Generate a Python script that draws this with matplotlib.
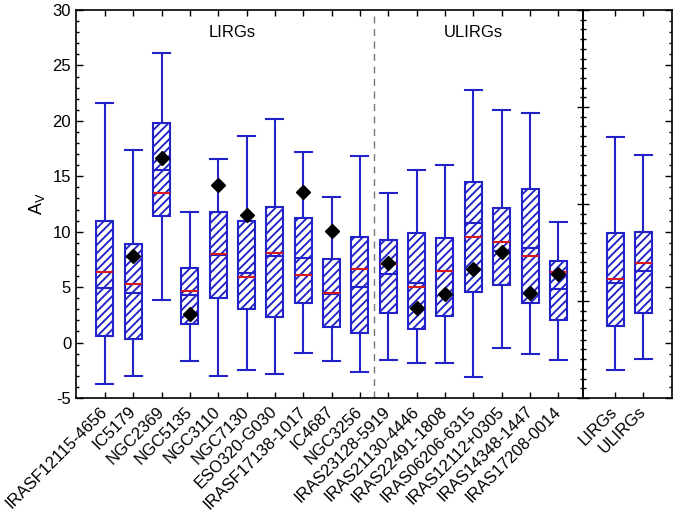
import numpy as np
import matplotlib
matplotlib.use('Agg')
import matplotlib.pyplot as plt
from matplotlib.ticker import MultipleLocator, FixedLocator, NullFormatter

plt.rcParams['font.family'] = ['Liberation Sans', 'DejaVu Sans']
plt.rcParams['axes.unicode_minus'] = False
plt.rcParams['hatch.linewidth'] = 1.35

# Per-galaxy A_V statistics
names = ['IRASF12115-4656', 'IC5179', 'NGC2369', 'NGC5135', 'NGC3110', 'NGC7130',
         'ESO320-G030', 'IRASF17138-1017', 'IC4687', 'NGC3256',
         'IRAS23128-5919', 'IRAS21130-4446', 'IRAS22491-1808', 'IRAS06206-6315',
         'IRAS12112+0305', 'IRAS14348-1447', 'IRAS17208-0014']
whis_lo = [-3.7, -3.0, 3.8, -1.7, -3.0, -2.5, -2.8, -0.9, -1.7, -2.7,
           -1.6, -1.8, -1.8, -3.1, -0.5, -1.05, -1.6]
q1 = [0.6, 0.35, 11.4, 1.65, 4.0, 3.0, 2.3, 3.55, 1.4, 0.85,
      2.65, 1.25, 2.4, 4.6, 5.2, 3.6, 2.05]
median = [4.95, 4.45, 15.55, 4.27, 7.9, 6.25, 7.85, 7.65, 4.35, 5.05,
          6.2, 5.4, 6.5, 10.8, 8.3, 8.55, 4.8]
mean = [6.35, 5.25, 13.5, 4.65, 7.95, 5.95, 8.05, 6.05, 4.5, 6.6,
        7.05, 5.05, 6.5, 9.5, 9.07, 7.85, 6.35]
q3 = [10.95, 8.9, 19.85, 6.7, 11.8, 10.95, 12.25, 11.25, 7.5, 9.5,
      9.25, 9.9, 9.45, 14.5, 12.15, 13.85, 7.4]
whis_hi = [21.6, 17.35, 26.1, 11.75, 16.6, 18.65, 20.15, 17.2, 13.1, 16.85,
           13.45, 15.6, 16.05, 22.8, 21.0, 20.7, 10.85]
diamond = [np.nan, 7.85, 16.65, 2.6, 14.2, 11.5, np.nan, 13.6, 10.1, np.nan,
           7.2, 3.15, 4.35, 6.6, 8.2, 4.45, 6.15]

# Combined samples
group_names = ['LIRGs', 'ULIRGs']
g_whis_lo = [-2.5, -1.45]
g_q1 = [1.45, 2.7]
g_median = [5.35, 6.5]
g_mean = [5.7, 7.2]
g_q3 = [9.9, 9.95]
g_whis_hi = [18.55, 16.9]

BLUE = '#2222c8'
RED = '#d41a1a'
N_LIRG = 10
FS = 12


def make_stats(lo, a, m, mu, b, hi):
    return [dict(whislo=lo[i], q1=a[i], med=m[i], mean=mu[i], q3=b[i], whishi=hi[i], fliers=[])
            for i in range(len(lo))]


def draw_boxes(ax, stats, pos):
    res = ax.bxp(stats, positions=pos, widths=0.6, capwidths=0.6, patch_artist=True,
                 showmeans=True, meanline=True, showfliers=False, manage_ticks=False,
                 boxprops=dict(facecolor='none', edgecolor=BLUE, linewidth=1.5, hatch='////'),
                 whiskerprops=dict(color=BLUE, linewidth=1.5),
                 capprops=dict(color=BLUE, linewidth=1.5),
                 medianprops=dict(color=BLUE, linewidth=1.5),
                 meanprops=dict(color=RED, linewidth=1.5, linestyle='-'))
    return res


fig = plt.figure(figsize=(6.81, 5.13), dpi=100)
ax1 = fig.add_axes([0.1116, 0.2242, 0.7445, 0.7563])
ax2 = fig.add_axes([0.8561, 0.2242, 0.1307, 0.7563])

# left panel: individual galaxies
pos1 = np.arange(1, len(names) + 1)
draw_boxes(ax1, make_stats(whis_lo, q1, median, mean, q3, whis_hi), pos1)
ax1.plot(pos1, diamond, 'D', color='black', ms=7, zorder=5)
ax1.axvline(N_LIRG + 0.5, color='#777777', linestyle=(0, (5, 4)), linewidth=1.0)
ax1.text(5.5, 28.0, 'LIRGs', ha='center', va='center', fontsize=FS)
ax1.text(14.0, 28.0, 'ULIRGs', ha='center', va='center', fontsize=FS)

ax1.set_xlim(-0.02, 17.87)
ax1.set_ylim(-5, 30)
ax1.set_xticks(pos1)
ax1.set_xticklabels(names, rotation=45, ha='right', va='center', rotation_mode='anchor', fontsize=FS)
ax1.tick_params(axis='x', which='major', direction='in', top=True, length=4, width=1, pad=8)
ax1.yaxis.set_major_locator(MultipleLocator(5))
ax1.yaxis.set_minor_locator(MultipleLocator(1))
ax1.tick_params(axis='y', which='major', direction='in', length=5, width=1, labelsize=FS, right=False)
ax1.tick_params(axis='y', which='minor', direction='in', length=2.5, width=1, right=False)
ax1.set_ylabel('A$_\\mathregular{V}$', fontsize=13, labelpad=4)

# right panel: combined samples
pos2 = np.arange(1, len(group_names) + 1)
draw_boxes(ax2, make_stats(g_whis_lo, g_q1, g_median, g_mean, g_q3, g_whis_hi), pos2)
ax2.set_xlim(-0.13, 3.01)
ax2.set_ylim(-5, 30)
ax2.set_xticks(pos2)
ax2.set_xticklabels(group_names, rotation=45, ha='right', va='center', rotation_mode='anchor', fontsize=FS)
ax2.tick_params(axis='x', which='major', direction='in', top=True, length=4, width=1, pad=8)

# right side ticks every 5 / 1, divider ticks on a different spacing
ax2.yaxis.set_ticks_position('right')
ax2.yaxis.set_major_locator(MultipleLocator(5))
ax2.yaxis.set_minor_locator(MultipleLocator(1))
ax2.yaxis.set_major_formatter(NullFormatter())
ax2.tick_params(axis='y', which='major', direction='in', length=5, width=1)
ax2.tick_params(axis='y', which='minor', direction='in', length=2.5, width=1)

sec = ax2.secondary_yaxis('left')
sec.yaxis.set_major_locator(FixedLocator(np.arange(-5, 30.1, 8.75)))
sec.yaxis.set_minor_locator(FixedLocator(np.arange(-5, 30.1, 0.875)))
sec.yaxis.set_major_formatter(NullFormatter())
sec.tick_params(axis='y', which='major', direction='inout', length=9, width=1)
sec.tick_params(axis='y', which='minor', direction='inout', length=5, width=1)
sec.spines['left'].set_linewidth(1.2)

for ax in (ax1, ax2):
    for s in ax.spines.values():
        s.set_linewidth(1.2)

fig.savefig('out.png', dpi=100)
